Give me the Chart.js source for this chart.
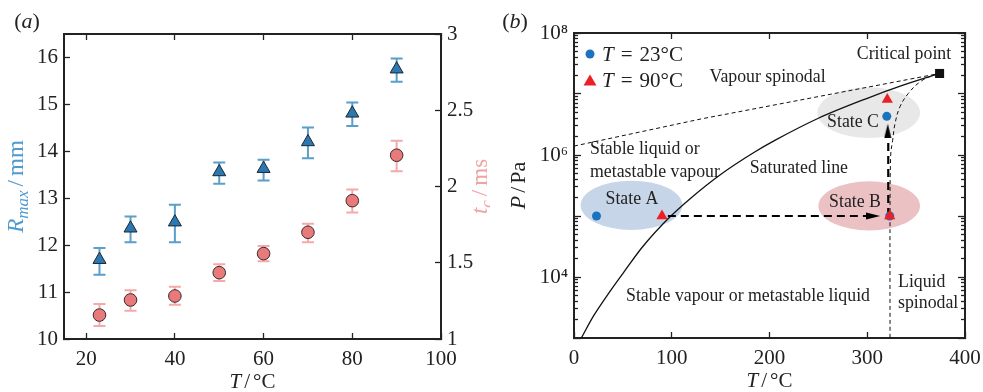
<!DOCTYPE html>
<html>
<head>
<meta charset="utf-8">
<script src="https://cdn.jsdelivr.net/npm/chart.js@4.4.1/dist/chart.umd.min.js"></script>
<style>
  html, body { margin: 0; padding: 0; background: #fff; }
  #wrap { position: relative; width: 983px; height: 392px; overflow: hidden; }
  #boxA { position: absolute; left: 0; top: 0; width: 490px; height: 392px; }
  #boxB { position: absolute; left: 490px; top: 0; width: 493px; height: 392px; }
</style>
</head>
<body>
<div id="wrap">
  <div id="boxA"><canvas id="chartA" width="490" height="392"></canvas></div>
  <div id="boxB"><canvas id="chartB" width="493" height="392"></canvas></div>
</div>
<script>
// ---- panel (a): bubble size / collapse time vs water temperature ----
const temps = [23, 30, 40, 50, 60, 70, 80, 90];
const rMax = [11.69, 12.36, 12.49, 13.56, 13.63, 14.20, 14.81, 15.75];
const rMaxLow = [11.37, 12.06, 12.06, 13.31, 13.38, 13.85, 14.54, 15.48];
const rMaxHigh = [11.94, 12.61, 12.86, 13.76, 13.82, 14.51, 15.04, 15.98];
const tc = [1.157, 1.256, 1.282, 1.435, 1.56, 1.70, 1.907, 2.205];
const tcLow = [1.085, 1.186, 1.225, 1.38, 1.51, 1.635, 1.83, 2.10];
const tcHigh = [1.23, 1.32, 1.343, 1.49, 1.61, 1.755, 1.98, 2.30];
const aXTicks = [20, 40, 60, 80, 100];
const rTicks = [10, 11, 12, 13, 14, 15, 16];
const tcTicks = [1, 1.5, 2, 2.5, 3];

// ---- panel (b): phase diagram ----
const satT = [7.5, 20, 34, 51, 70, 98, 120, 150, 184, 205, 250, 300, 333, 374];
const satP = [1.0e3, 2.3e3, 5.0e3, 1.2e4, 3.1e4, 9.6e4, 2.0e5, 4.8e5, 1.1e6, 1.72e6, 4.0e6, 8.5e6, 1.33e7, 2.17e7];
const vapT = [0, 130, 374];
const vapP = [1.4e6, 3.9e6, 2.17e7];
const liqT = [323.3, 323.3, 324, 326, 328.4, 333.5, 342, 354, 367.6, 374];
const liqP = [1e3, 1e5, 1e6, 1.74e6, 3.27e6, 6.2e6, 1.02e7, 1.58e7, 2.04e7, 2.17e7];
const pathHT = [96, 300];
const pathHP = [1e5, 1e5];
const pathVT = [321.5, 321.5];
const pathVP = [1e5, 2.1e6];
const arrowRight = { T: 306, P: 1e5 };
const arrowUp = { T: 321, P: 2.5e6 };
const cold = { T: [23, 323, 320], P: [1e5, 1e5, 4.3e6] };     // T = 23 °C states
const hot = { T: [90, 323, 320.5], P: [1e5, 1e5, 8.1e6] };     // T = 90 °C states
const critical = { T: 374, P: 2.17e7 };
const bXTicks = [0, 100, 200, 300, 400];
const decades = [1e3, 1e4, 1e5, 1e6, 1e7, 1e8];
const decadeLabels = { 10000: '10⁴', 1000000: '10⁶', 100000000: '10⁸' };
const minorTicks = [];
decades.slice(0, -1).forEach(d => { for (let m = 2; m <= 9; m++) minorTicks.push(m * d); });

const ellipses = [
  { T: [6.8, 110.8], P: [5.9e4, 3.8e5], color: '#c7d5e8' },
  { T: [250, 354], P: [5.8e4, 3.7e5], color: '#ebc1c3' },
  { T: [249, 354], P: [1.9e6, 1.29e7], color: '#e8e8e8' }
];
const notes = [
  { text: 'Critical point', T: 337.6, P: 4.5e7, align: 'center' },
  { text: 'Vapour spinodal', T: 198, P: 1.89e7, align: 'center' },
  { text: 'Stable liquid or', T: 16.4, P: 1.24e6, align: 'left' },
  { text: 'metastable vapour', T: 16.4, P: 5.24e5, align: 'left' },
  { text: 'Saturated line', T: 230, P: 6.1e5, align: 'center' },
  { text: 'State A', T: 59.3, P: 1.86e5, align: 'center' },
  { text: 'State B', T: 287.5, P: 1.66e5, align: 'center' },
  { text: 'State C', T: 285.4, P: 3.44e6, align: 'center' },
  { text: 'Stable vapour or metastable liquid', T: 178, P: 4.8e3, align: 'center' },
  { text: 'Liquid', T: 331.5, P: 8.3e3, align: 'left' },
  { text: 'spinodal', T: 331.5, P: 3.66e3, align: 'left' }
];

const SERIF = '"Liberation Serif", "DejaVu Serif", serif';
const INK = '#222';
Chart.defaults.font.family = SERIF;
Chart.defaults.color = INK;

const pts = (xs, ys) => xs.map((x, i) => ({ x, y: ys[i] }));
const tickFont = { family: SERIF, size: 21 };
const innerGrid = len => ({ display: true, drawOnChartArea: false, drawTicks: true, tickLength: -len, tickColor: INK, tickWidth: 1.3 });
const frame = { display: true, color: INK, width: 2 };
const fixTicks = vals => scale => { scale.ticks = vals.map(v => ({ value: v })); };
// fixed box height for a horizontal axis; edge labels must not squeeze the plot
const fixHeight = h => s => { s.height = h; s.paddingLeft = 0; s.paddingRight = 0; };

// text with italic / subscript pieces
function drawRich(ctx, parts, x, y, { size = 20, color = INK, rotate = 0, align = 'center' } = {}) {
  ctx.save();
  ctx.translate(x, y);
  ctx.rotate(rotate);
  ctx.fillStyle = color;
  ctx.textBaseline = 'middle';
  ctx.textAlign = 'left';
  const fontOf = p => `${p.i ? 'italic ' : ''}${p.sub ? Math.round(size * 0.72) : size}px ${SERIF}`;
  let total = 0;
  const widths = parts.map(p => {
    ctx.font = fontOf(p);
    const w = ctx.measureText(p.t).width + (p.gap || 0);
    total += w;
    return w;
  });
  let cx = align === 'center' ? -total / 2 : align === 'right' ? -total : 0;
  parts.forEach((p, k) => {
    ctx.font = fontOf(p);
    ctx.fillText(p.t, cx, p.sub ? size * 0.3 : 0);
    cx += widths[k];
  });
  ctx.restore();
}

// ---------- panel (a) ----------
const errorBars = {
  id: 'errorBars',
  beforeDatasetsDraw(chart) {
    const { ctx } = chart;
    const x = chart.scales.x;
    const sets = [
      { axis: chart.scales.y, lo: rMaxLow, hi: rMaxHigh, color: '#5a9ec9' },
      { axis: chart.scales.y1, lo: tcLow, hi: tcHigh, color: '#f4a9ab' }
    ];
    ctx.save();
    ctx.lineWidth = 2;
    sets.forEach(s => {
      ctx.strokeStyle = s.color;
      temps.forEach((t, i) => {
        const px = x.getPixelForValue(t);
        const y1 = s.axis.getPixelForValue(s.lo[i]);
        const y2 = s.axis.getPixelForValue(s.hi[i]);
        ctx.beginPath();
        ctx.moveTo(px, y1); ctx.lineTo(px, y2);
        ctx.moveTo(px - 6, y1); ctx.lineTo(px + 6, y1);
        ctx.moveTo(px - 6, y2); ctx.lineTo(px + 6, y2);
        ctx.stroke();
      });
    });
    ctx.restore();
  },
  afterDraw(chart) {
    const { ctx, chartArea: ca } = chart;
    const mid = (ca.top + ca.bottom) / 2;
    drawRich(ctx, [{ t: '(' }, { t: 'a', i: true }, { t: ')' }], 27, 22, { size: 22 });
    drawRich(ctx, [{ t: 'T', i: true, gap: 3 }, { t: '/', gap: 3 }, { t: '°C' }], (ca.left + ca.right) / 2, ca.bottom + 43, { size: 21 });
    drawRich(ctx, [{ t: 'R', i: true }, { t: 'max', i: true, sub: true, gap: 4 }, { t: '/', gap: 4 }, { t: 'mm' }],
      17, mid, { size: 23, color: '#4f9bd0', rotate: -Math.PI / 2 });
    drawRich(ctx, [{ t: 't', i: true }, { t: 'c', i: true, sub: true, gap: 4 }, { t: '/', gap: 4 }, { t: 'ms' }],
      ca.right + 40, mid, { size: 23, color: '#f1a3a3', rotate: -Math.PI / 2 });
  }
};

new Chart(document.getElementById('chartA'), {
  type: 'scatter',
  data: {
    datasets: [
      {
        label: 'R_max',
        data: pts(temps, rMax),
        yAxisID: 'y',
        pointStyle: 'triangle',
        pointRadius: 7.5,
        backgroundColor: '#2c78b0',
        borderColor: '#1c2633',
        borderWidth: 1
      },
      {
        label: 't_c',
        data: pts(temps, tc),
        yAxisID: 'y1',
        pointStyle: 'circle',
        pointRadius: 6.3,
        backgroundColor: '#e97a7c',
        borderColor: '#3a2a2a',
        borderWidth: 1
      }
    ]
  },
  options: {
    responsive: false,
    animation: false,
    layout: { padding: { top: 34, left: 0, right: 0, bottom: 0 } },
    plugins: { legend: { display: false }, tooltip: { enabled: false } },
    scales: {
      x: {
        type: 'linear', position: 'bottom', min: 15, max: 100,
        afterBuildTicks: fixTicks(aXTicks),
        grid: innerGrid(6), border: frame,
        ticks: { font: tickFont, color: INK, padding: 14, autoSkip: false, maxRotation: 0 },
        afterFit: fixHeight(53)
      },
      x2: {
        type: 'linear', position: 'top', min: 15, max: 100,
        afterBuildTicks: fixTicks(aXTicks),
        grid: innerGrid(6), border: frame,
        ticks: { display: false },
        afterFit: fixHeight(0)
      },
      y: {
        type: 'linear', position: 'left', min: 10, max: 16.5,
        afterBuildTicks: fixTicks(rTicks),
        grid: innerGrid(6), border: frame,
        ticks: { font: tickFont, color: INK, padding: 12, autoSkip: false },
        afterFit: s => { s.width = 64; }
      },
      y1: {
        type: 'linear', position: 'right', min: 1, max: 3,
        afterBuildTicks: fixTicks(tcTicks),
        grid: innerGrid(6), border: frame,
        ticks: { font: tickFont, color: INK, padding: 12, autoSkip: false, callback: v => String(v) },
        afterFit: s => { s.width = 49; }
      }
    }
  },
  plugins: [errorBars]
});

// ---------- panel (b) ----------
function arrowHead() {
  const c = document.createElement('canvas');
  c.width = 14; c.height = 8;
  const g = c.getContext('2d');
  g.fillStyle = '#000';
  g.beginPath();
  g.moveTo(14, 4); g.lineTo(0, 0.5); g.lineTo(0, 7.5);
  g.closePath();
  g.fill();
  return c;
}
const head = arrowHead();

const phaseDecor = {
  id: 'phaseDecor',
  beforeDatasetsDraw(chart) {
    const { ctx, chartArea: ca } = chart;
    const x = chart.scales.x, y = chart.scales.y;
    ctx.save();
    ctx.beginPath();
    ctx.rect(ca.left, ca.top, ca.right - ca.left, ca.bottom - ca.top);
    ctx.clip();
    ellipses.forEach(e => {
      const x1 = x.getPixelForValue(e.T[0]), x2 = x.getPixelForValue(e.T[1]);
      const y1 = y.getPixelForValue(e.P[0]), y2 = y.getPixelForValue(e.P[1]);
      ctx.fillStyle = e.color;
      ctx.beginPath();
      ctx.ellipse((x1 + x2) / 2, (y1 + y2) / 2, Math.abs(x2 - x1) / 2, Math.abs(y2 - y1) / 2, 0, 0, Math.PI * 2);
      ctx.fill();
    });
    ctx.fillStyle = INK;
    ctx.font = `17.8px ${SERIF}`;
    ctx.textBaseline = 'middle';
    notes.forEach(n => {
      ctx.textAlign = n.align;
      ctx.fillText(n.text, x.getPixelForValue(n.T), y.getPixelForValue(n.P));
    });
    ctx.restore();
  },
  afterDraw(chart) {
    const { ctx, chartArea: ca } = chart;
    const mid = (ca.top + ca.bottom) / 2;
    drawRich(ctx, [{ t: '(' }, { t: 'b', i: true }, { t: ')' }], 25, 22, { size: 22 });
    drawRich(ctx, [{ t: 'T', i: true, gap: 3 }, { t: '/', gap: 3 }, { t: '°C' }], (ca.left + ca.right) / 2, ca.bottom + 43, { size: 21 });
    drawRich(ctx, [{ t: 'P', i: true, gap: 3 }, { t: '/', gap: 3 }, { t: 'Pa' }], 29, mid, { size: 22, rotate: -Math.PI / 2 });
    // legend
    const lx = ca.left + 16;
    ctx.save();
    ctx.fillStyle = '#1b72be';
    ctx.beginPath();
    ctx.arc(lx, ca.top + 21, 4.5, 0, Math.PI * 2);
    ctx.fill();
    ctx.fillStyle = '#ec2024';
    ctx.beginPath();
    ctx.moveTo(lx, ca.top + 41.5); ctx.lineTo(lx + 6.5, ca.top + 52.5); ctx.lineTo(lx - 6.5, ca.top + 52.5);
    ctx.closePath();
    ctx.fill();
    ctx.restore();
    drawRich(ctx, [{ t: 'T', i: true, gap: 7 }, { t: '=', gap: 7 }, { t: '23°C' }], lx + 12, ca.top + 22, { size: 21, align: 'left' });
    drawRich(ctx, [{ t: 'T', i: true, gap: 7 }, { t: '=', gap: 7 }, { t: '90°C' }], lx + 12, ca.top + 48, { size: 21, align: 'left' });
  }
};

const logAxis = (position, weight, ticks, len, extra) => Object.assign({
  type: 'logarithmic', position, weight, min: 1e3, max: 1e8,
  afterBuildTicks: fixTicks(ticks),
  grid: innerGrid(len),
  border: { display: weight > 0, color: INK, width: 2 },
  ticks: { display: false }
}, extra);

new Chart(document.getElementById('chartB'), {
  type: 'scatter',
  data: {
    datasets: [
      {
        label: 'Critical point', data: [{ x: critical.T, y: critical.P }],
        pointStyle: 'rect', pointRadius: 6.4, backgroundColor: '#111', borderWidth: 0
      },
      {
        label: 'T = 90°C', data: pts(hot.T, hot.P),
        pointStyle: 'triangle', pointRadius: 6.5, backgroundColor: '#ec2024', borderWidth: 0
      },
      {
        label: 'T = 23°C', data: pts(cold.T, cold.P),
        pointStyle: 'circle', pointRadius: 4.5, backgroundColor: '#1b72be', borderWidth: 0
      },
      {
        label: 'arrow right', data: [{ x: arrowRight.T, y: arrowRight.P }],
        pointStyle: head, pointRadius: 5, pointRotation: 0
      },
      {
        label: 'arrow up', data: [{ x: arrowUp.T, y: arrowUp.P }],
        pointStyle: head, pointRadius: 5, pointRotation: -90
      },
      {
        label: 'heating path', type: 'line', data: pts(pathHT, pathHP),
        borderColor: '#000', borderWidth: 2.2, borderDash: [8, 5], pointRadius: 0, fill: false
      },
      {
        label: 'depressurisation path', type: 'line', data: pts(pathVT, pathVP),
        borderColor: '#000', borderWidth: 2.2, borderDash: [8, 5], pointRadius: 0, fill: false
      },
      {
        label: 'Saturated line', type: 'line', data: pts(satT, satP),
        borderColor: '#111', borderWidth: 1.3, pointRadius: 0, fill: false, cubicInterpolationMode: 'monotone'
      },
      {
        label: 'Vapour spinodal', type: 'line', data: pts(vapT, vapP),
        borderColor: '#111', borderWidth: 1, borderDash: [4, 3], pointRadius: 0, fill: false, tension: 0
      },
      {
        label: 'Liquid spinodal', type: 'line', data: pts(liqT, liqP),
        borderColor: '#111', borderWidth: 1, borderDash: [4, 3], pointRadius: 0, fill: false, tension: 0.4
      }
    ]
  },
  options: {
    responsive: false,
    animation: false,
    layout: { padding: { top: 33, left: 0, right: 0, bottom: 0 } },
    plugins: { legend: { display: false }, tooltip: { enabled: false } },
    scales: {
      x: {
        type: 'linear', position: 'bottom', min: 0, max: 400,
        afterBuildTicks: fixTicks(bXTicks),
        grid: innerGrid(6), border: frame,
        ticks: { font: tickFont, color: INK, padding: 14, autoSkip: false, maxRotation: 0 },
        afterFit: fixHeight(54)
      },
      x2: {
        type: 'linear', position: 'top', min: 0, max: 400,
        afterBuildTicks: fixTicks(bXTicks),
        grid: innerGrid(6), border: frame,
        ticks: { display: false },
        afterFit: fixHeight(0)
      },
      y: logAxis('left', 1, decades, 7, {
        ticks: { display: true, font: tickFont, color: INK, padding: 13, autoSkip: false, callback: v => decadeLabels[v] || '' },
        afterFit: s => { s.width = 84; }
      }),
      yMinor: logAxis('left', 0, minorTicks, 4, { afterFit: s => { s.width = 0; } }),
      yR: logAxis('right', 1, decades, 7, { afterFit: s => { s.width = 18; } }),
      yRMinor: logAxis('right', 0, minorTicks, 4, { afterFit: s => { s.width = 0; } })
    }
  },
  plugins: [phaseDecor]
});
</script>
</body>
</html>
